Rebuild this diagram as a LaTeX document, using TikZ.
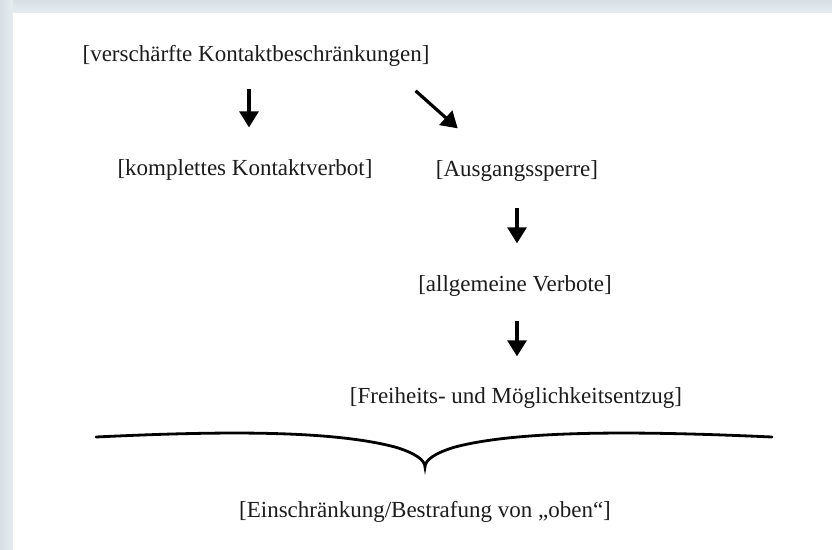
\documentclass[tikz,border=0pt]{standalone}
\usepackage{fontspec}
\setmainfont{Liberation Serif}
\usepackage{xcolor}
\usetikzlibrary{arrows.meta}
\definecolor{rahmen}{RGB}{214,224,229}
\definecolor{schrift}{RGB}{28,28,28}
\tikzset{
textnode/.style={inner sep=0pt, text=schrift, font=\fontsize{23}{27}\selectfont},
pfeil/.style={draw=black, line width=3.2pt, -{Triangle[width=19pt,length=16pt]}},
klammer/.style={draw=black, line width=2.8pt, line cap=round},
}

\begin{document}
\begin{tikzpicture}[x=1pt,y=-1pt]
\useasboundingbox (0,0) rectangle (832,549);
\shade[top color=rahmen, bottom color=rahmen!60] (0,0) rectangle (832,13);
\shade[left color=rahmen, right color=rahmen!60] (0,0) rectangle (13,549);
\fill[white] (13,13) rectangle (832,549);

\node[textnode] at (256,56) (kontakt) {[verschärfte Kontaktbeschränkungen]};
\node[textnode] at (245,170) (verbot) {[komplettes Kontaktverbot]};
\node[textnode] at (517,171) (ausgang) {[Ausgangssperre]};
\node[textnode] at (515,286) (allgemein) {[allgemeine Verbote]};
\node[textnode] at (516,398) (freiheit) {[Freiheits- und Möglichkeitsentzug]};
\node[textnode] at (425,512) (oben) {[Einschränkung/Bestrafung von „oben“]};

\draw[pfeil, shorten <=22pt, shorten >=32pt] (kontakt.south -| 249,0) -- (verbot.north -| 249,0);
\draw[pfeil] ([shift={(-14,24)}]kontakt.south east) -- ([shift={(22,-32)}]ausgang.north west);
\draw[pfeil, shorten <=26pt, shorten >=32pt] (ausgang.south) -- (allgemein.north -| ausgang.south);
\draw[pfeil, shorten <=24pt, shorten >=31pt] (allgemein.south -| ausgang.south) -- (freiheit.north -| ausgang.south);

% geschweifte Klammer
\coordinate (spitze) at (425,467);
\draw[klammer] (96,437) .. controls (220,431) and (330,430) .. (395,447)
  .. controls (415,453) and (425,460) .. (spitze)
  .. controls (425,460) and (435,453) .. (455,447)
  .. controls (520,430) and (640,431) .. (772,437);
\end{tikzpicture}
\end{document}
